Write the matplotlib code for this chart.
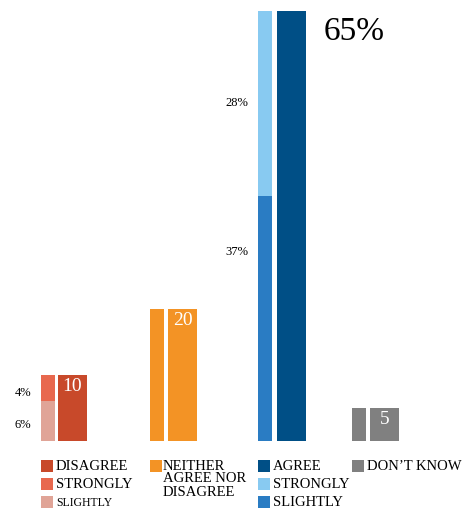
import matplotlib
matplotlib.use("Agg")
import matplotlib.pyplot as plt
from matplotlib.patches import Rectangle

# data
groups = ["DISAGREE", "NEITHER\nAGREE NOR\nDISAGREE", "AGREE", "DON\u2019T KNOW"]
totals = [10, 20, 65, 5]
slightly = [6, 20, 37, 5]
strongly = [4, 0, 28, 0]

# colours
c_total = ["#C8492A", "#F39325", "#004F86", "#808080"]
c_strong = ["#E8684E", "#F39325", "#88CAF1", "#808080"]
c_slight = ["#E0A497", "#F39325", "#2A7CC3", "#808080"]

W, H = 465, 511
fig = plt.figure(figsize=(W / 100, H / 100), dpi=100)
plt.rcParams['font.family'] = ['Liberation Serif', 'DejaVu Serif']

base = 441
top = 11
ax = fig.add_axes([0, (H - base) / H, 1, (base - top) / H])
ax.set_xlim(0, W)
ax.set_ylim(0, 65)
ax.axis("off")

thin_x = [41, 150, 258, 352]
wide_x = [58, 168, 277, 370]
thin_w = 14
wide_w = 29

for i in range(len(groups)):
    ax.bar(thin_x[i], slightly[i], width=thin_w, align="edge", color=c_slight[i])
    if strongly[i]:
        ax.bar(thin_x[i], strongly[i], width=thin_w, bottom=slightly[i],
               align="edge", color=c_strong[i])
    ax.bar(wide_x[i], totals[i], width=wide_w, align="edge", color=c_total[i])

# value labels
for i in [0, 1, 3]:
    ax.text(wide_x[i] + wide_w / 2, totals[i] - 0.5, str(totals[i]), color="white",
            ha="center", va="top", fontsize=14)
ax.text(354, 61.8, "65%", ha="center", va="center", fontsize=24)

# side percentages for stacked parts (label heights are layout positions)
slight_lab_y = [2.4, None, 28.6, None]
strong_lab_y = [7.3, None, 51.1, None]
for i in [0, 2]:
    ax.text(thin_x[i] - 10, slight_lab_y[i], f"{slightly[i]}%", ha="right",
            va="center", fontsize=9)
    ax.text(thin_x[i] - 10, strong_lab_y[i], f"{strongly[i]}%", ha="right",
            va="center", fontsize=9)

# legend in pixel coordinates
lg = fig.add_axes([0, 0, 1, 1])
lg.set_xlim(0, W)
lg.set_ylim(H, 0)
lg.axis("off")

def key(x, y, color, label, size=10.5):
    lg.add_patch(Rectangle((x, y), 12, 12, color=color, lw=0))
    lg.text(x + 15, y + 6.5, label, ha="left", va="center", fontsize=size)

for i in range(len(groups)):
    x = thin_x[i]
    if i == 1:
        lg.add_patch(Rectangle((x, 460), 12, 12, color=c_total[i], lw=0))
        lg.text(x + 13, 459.5, groups[i], ha="left", va="top", fontsize=10.5,
                linespacing=1.0)
    else:
        key(x, 460, c_total[i], groups[i])
    if strongly[i]:
        key(x, 478, c_strong[i], "STRONGLY")
        key(x, 496, c_slight[i], "SLIGHTLY", size=10.5 if i == 2 else 8.5)

fig.savefig("out.png", dpi=100)
